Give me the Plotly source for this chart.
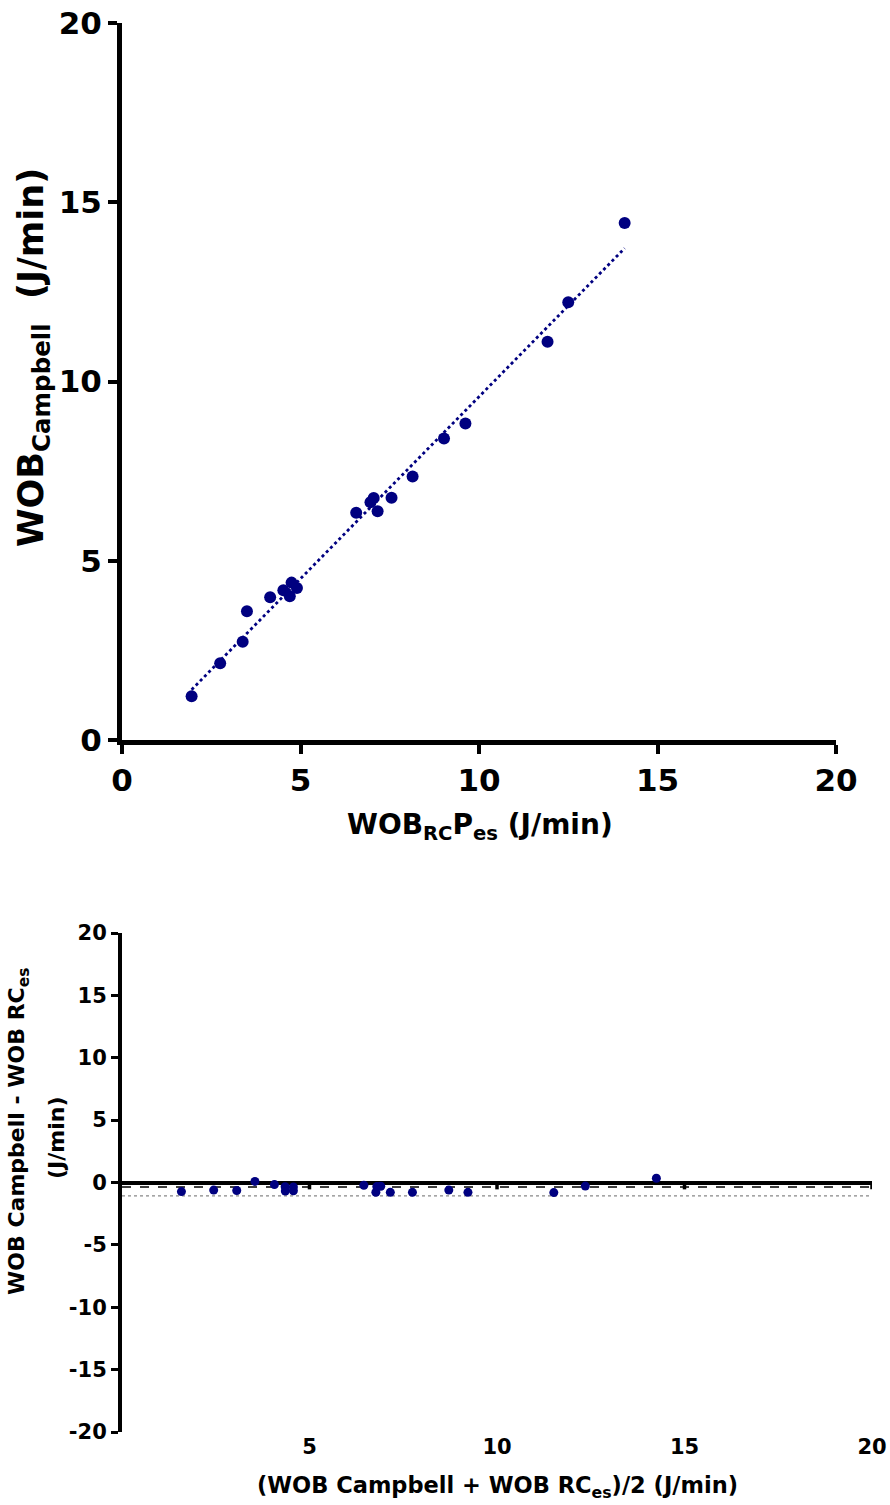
import numpy as np
import plotly.graph_objects as go

# ---- data ----
wob_rc_pes = [1.95, 2.75, 3.38, 3.50, 4.15, 4.52, 4.70, 4.75, 4.90, 6.56,
              6.96, 7.05, 7.16, 7.55, 8.14, 9.02, 9.62, 11.92, 12.50, 14.08]
wob_campbell = [1.22, 2.14, 2.74, 3.59, 3.98, 4.18, 4.01, 4.39, 4.24, 6.34,
                6.63, 6.75, 6.38, 6.76, 7.35, 8.41, 8.83, 11.11, 12.21, 14.42]
bias = -0.37
loa_lower = -1.07
top_ticks = [0, 5, 10, 15, 20]
bottom_xticks = [5, 10, 15, 20]
bottom_yticks = [-20, -15, -10, -5, 0, 5, 10, 15, 20]

x = np.array(wob_rc_pes)
y = np.array(wob_campbell)
mean_xy = (x + y) / 2
diff_xy = y - x

W, H = 890, 1505
def px(v):
    return v / W
def py(v):
    return 1 - v / H

NAVY = "#000080"
FONT = "DejaVu Sans, Liberation Sans, Arial, sans-serif"

fig = go.Figure()

# top scatter
fig.add_trace(go.Scatter(x=x, y=y, mode="markers", xaxis="x", yaxis="y",
                         marker=dict(color=NAVY, size=12), showlegend=False))
slope, intercept = np.polyfit(x, y, 1)
xf = np.array([x.min(), x.max()])
fig.add_trace(go.Scatter(x=xf, y=slope * xf + intercept, mode="lines",
                         xaxis="x", yaxis="y",
                         line=dict(color=NAVY, width=2.8, dash="dot"),
                         showlegend=False))

# bottom Bland-Altman
fig.add_trace(go.Scatter(x=mean_xy, y=diff_xy, mode="markers", xaxis="x2", yaxis="y2",
                         marker=dict(color=NAVY, size=9), showlegend=False))

shapes = [
    dict(type="line", xref="x2", yref="y2", x0=0, x1=20, y0=bias, y1=bias,
         line=dict(color="black", width=1.5, dash="dash"), layer="below"),
    dict(type="line", xref="x2", yref="y2", x0=0, x1=20, y0=loa_lower, y1=loa_lower,
         line=dict(color="#888888", width=1.2, dash="dot"), layer="below"),
]
for t in bottom_xticks:
    shapes.append(dict(type="line", xref="x2", yref="y2", x0=t, x1=t, y0=0, y1=-0.55,
                       line=dict(color="black", width=3.5), layer="above"))

tick_font_top = dict(family=FONT, size=31, color="black", weight="bold")
tick_font_bot = dict(family=FONT, size=21, color="black", weight="bold")

fig.update_layout(
    template="none",
    width=W, height=H,
    margin=dict(l=0, r=0, t=0, b=0, pad=0),
    paper_bgcolor="white", plot_bgcolor="white",
    showlegend=False,
    xaxis=dict(domain=[px(122), px(836)], anchor="y", range=[0, 20], automargin=False,
               tickvals=top_ticks, showline=True, linecolor="black", linewidth=5,
               ticks="outside", ticklen=9, tickwidth=4, tickcolor="black",
               showgrid=False, zeroline=False, tickfont=tick_font_top),
    yaxis=dict(domain=[py(740), py(23)], anchor="x", range=[0, 20], automargin=False,
               tickvals=top_ticks, showline=True, linecolor="black", linewidth=5,
               ticks="outside", ticklen=9, tickwidth=4, tickcolor="black",
               showgrid=False, zeroline=False, tickfont=tick_font_top),
    xaxis2=dict(domain=[px(122), px(872)], anchor="y2", range=[0, 20], automargin=False,
                tickvals=bottom_xticks, showline=False, ticks="",
                showgrid=False, zeroline=False, tickfont=tick_font_bot),
    yaxis2=dict(domain=[py(1432), py(933)], anchor="x2", range=[-20, 20], automargin=False,
                tickvals=bottom_yticks, ticktext=[str(v) for v in bottom_yticks],
                showline=True, linecolor="black", linewidth=4,
                ticks="outside", ticklen=7, tickwidth=3, tickcolor="black",
                showgrid=False, zeroline=True, zerolinecolor="black", zerolinewidth=4,
                tickfont=tick_font_bot),
    shapes=shapes,
    annotations=[
        dict(text="WOB<sub>Campbell</sub>  (J/min)", xref="paper", yref="paper",
             x=px(33), y=py(358), textangle=-90, showarrow=False,
             font=dict(family=FONT, size=35, color="black", weight="bold"),
             xanchor="center", yanchor="middle"),
        dict(text="WOB<sub>RC</sub>P<sub>es</sub> (J/min)", xref="paper", yref="paper",
             x=px(480), y=py(826), showarrow=False,
             font=dict(family=FONT, size=28, color="black", weight="bold"),
             xanchor="center", yanchor="middle"),
        dict(text="WOB Campbell - WOB RC<sub>es</sub>", xref="paper", yref="paper",
             x=px(18), y=py(1132), textangle=-90, showarrow=False,
             font=dict(family=FONT, size=22, color="black", weight="bold"),
             xanchor="center", yanchor="middle"),
        dict(text="(J/min)", xref="paper", yref="paper",
             x=px(56), y=py(1138), textangle=-90, showarrow=False,
             font=dict(family=FONT, size=22, color="black", weight="bold"),
             xanchor="center", yanchor="middle"),
        dict(text="(WOB Campbell + WOB RC<sub>es</sub>)/2 (J/min)", xref="paper", yref="paper",
             x=px(497), y=py(1487), showarrow=False,
             font=dict(family=FONT, size=22.5, color="black", weight="bold"),
             xanchor="center", yanchor="middle"),
    ],
)

fig.write_html("out.html", config={"displayModeBar": False},
               post_script="document.body.style.margin='0px';document.body.style.padding='0px';")
